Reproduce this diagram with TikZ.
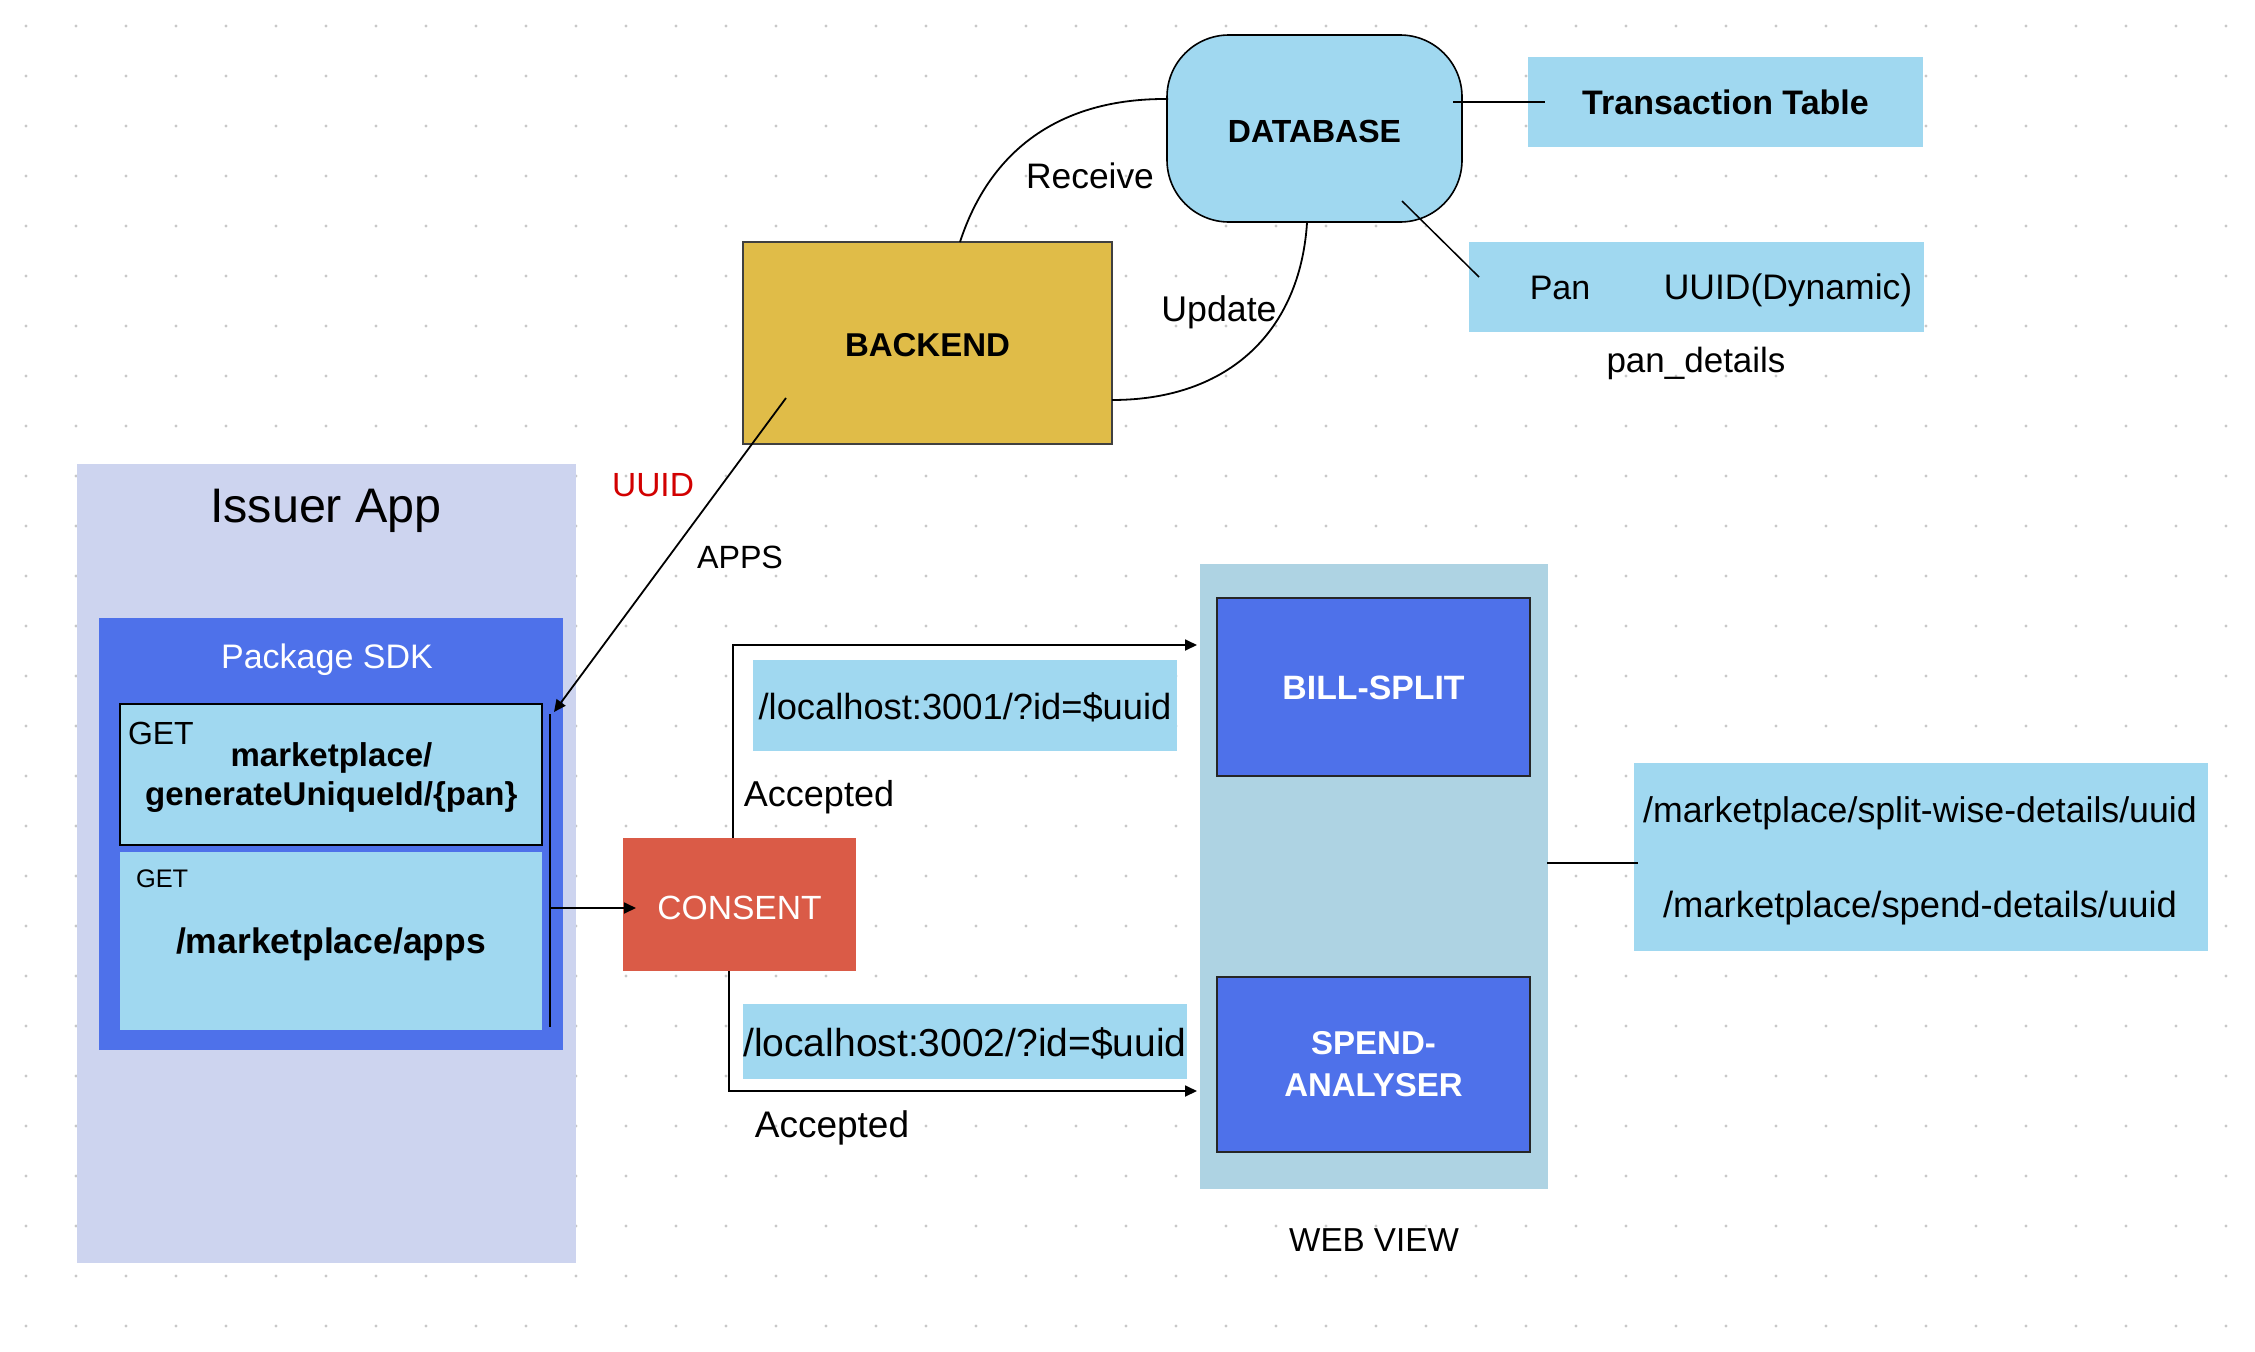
\documentclass[tikz,border=0pt]{standalone}
\usepackage{fontspec}
\setmainfont{Liberation Sans}
\usetikzlibrary{arrows.meta,calc}
\definecolor{dotc}{HTML}{C8C8C8}
\definecolor{issuerc}{HTML}{CDD4EF}
\definecolor{sdkc}{HTML}{4E71EA}
\definecolor{lblue}{HTML}{A0D8F0}
\definecolor{webc}{HTML}{AED3E3}
\definecolor{backc}{HTML}{E0BC48}
\definecolor{consc}{HTML}{DA5B47}
\definecolor{uuidred}{HTML}{D20000}
\newcommand{\fsz}[1]{\fontsize{#1}{#1}\selectfont}
\begin{document}
\begin{tikzpicture}[x=1pt,y=-1pt,
  box/.style={rectangle, inner sep=0pt, outer sep=0pt},
  lbl/.style={inner sep=0pt, outer sep=0pt, anchor=base},
  conn/.style={line width=1.8pt, draw=black},
  arr/.style={conn, -{Triangle[length=12pt,width=11pt]}},
]
\useasboundingbox (0,0) rectangle (2255,1352);
\fill[white] (0,0) rectangle (2255,1352);
\foreach \i in {0,...,44} \foreach \j in {0,...,26} \fill[dotc] (26+50*\i, 26+50*\j) circle (1.7pt);

% Issuer App
\node[box, fill=issuerc, minimum width=499pt, minimum height=799pt] (issuer) at (326.5,863.5) {};
\node[lbl, font=\fsz{48.5}] (issuer-t) at (326,522.5) {Issuer App};
\node[box, fill=sdkc, minimum width=464pt, minimum height=432pt] (sdk) at (331,834) {};
\node[lbl, font=\fsz{34}, text=white] (sdk-t) at (327,668) {Package SDK};
\node[box, fill=lblue, draw=black, line width=2pt, minimum width=422pt, minimum height=141pt] (get1) at (331,774.5) {};
\node[lbl, anchor=base west, font=\fsz{32}] (get1-m) at (128,744) {GET};
\node[lbl, font=\fsz{33}\bfseries] (get1-a) at (331.5,766) {marketplace/};
\node[lbl, font=\fsz{33}\bfseries] (get1-b) at (331.3,805) {generateUniqueId/\{pan\}};
\node[box, fill=lblue, minimum width=422pt, minimum height=178pt] (get2) at (331,941) {};
\node[lbl, anchor=base west, font=\fsz{25.4}] (get2-m) at (136,887) {GET};
\node[lbl, font=\fsz{35.5}\bfseries] (get2-a) at (331,953) {/marketplace/apps};
\coordinate (bar-top) at (550,714);
\coordinate (bar-bot) at (550,1027);
\draw[line width=2.6pt] (bar-top) -- (bar-bot);

% Backend and database
\node[box, fill=backc, draw=black!75, line width=1.5pt, minimum width=369pt, minimum height=202pt, font=\fsz{33}\bfseries, text height=27.4pt, text depth=0pt] (backend) at (927.5,343) {BACKEND};
\node[box, fill=lblue, draw=black, line width=1.6pt, rounded corners=62pt, minimum width=295pt, minimum height=187pt, font=\fsz{32}\bfseries, text height=28.4pt, text depth=0pt] (database) at (1314.5,128.5) {DATABASE};
\node[box, fill=lblue, minimum width=395pt, minimum height=90pt, font=\fsz{34}\bfseries, text height=24pt, text depth=0pt] (trans) at (1725.5,102) {Transaction Table};
\node[box, fill=lblue, minimum width=455pt, minimum height=90pt] (pan) at (1696.5,287) {};
\node[lbl, font=\fsz{34}] (pan-a) at (1560,299.6) {Pan};
\node[lbl, font=\fsz{35.5}] (pan-b) at (1788,299.6) {UUID(Dynamic)};
\node[lbl, font=\fsz{35}] (pan-cap) at (1696,372) {pan\_details};

% Consent and URLs
\node[box, fill=consc, minimum width=233pt, minimum height=133pt, font=\fsz{33.6}, text=white, text height=30.2pt, text depth=0pt] (consent) at (739.5,904.5) {CONSENT};
\node[box, fill=lblue, minimum width=424pt, minimum height=91pt, font=\fsz{36.3}, text height=27.6pt, text depth=0pt] (loc1) at (965,705.5) {/localhost:3001/?id=\$uuid};
\node[box, fill=lblue, minimum width=444pt, minimum height=75pt, font=\fsz{39}, text height=30.4pt, text depth=0pt] (loc2) at (965,1041.5) {/localhost:3002/?id=\$uuid};
\node[lbl, font=\fsz{36}] (acc1) at (819,806.6) {Accepted};
\node[lbl, font=\fsz{37}] (acc2) at (832,1137.3) {Accepted};

% Web view
\node[box, fill=webc, minimum width=348pt, minimum height=625pt] (webview) at (1374,876.5) {};
\node[box, fill=sdkc, draw=black!85, line width=1.5pt, minimum width=313pt, minimum height=178pt, font=\fsz{33.8}\bfseries, text=white, text height=24.6pt, text depth=0pt] (billsplit) at (1373.5,687) {BILL-SPLIT};
\node[box, fill=sdkc, draw=black!85, line width=1.5pt, minimum width=313pt, minimum height=175pt, font={\fontsize{33}{42}\selectfont\bfseries}, text=white, align=center] (spend) at (1373.5,1064.5) {SPEND-\\ANALYSER};
\node[lbl, font=\fsz{33.2}] (web-t) at (1374,1251.5) {WEB VIEW};
\node[box, fill=lblue, minimum width=574pt, minimum height=188pt] (endpoints) at (1921,857) {};
\node[lbl, font=\fsz{35.7}] (ep-a) at (1920,822.6) {/marketplace/split-wise-details/uuid};
\node[lbl, font=\fsz{36.4}] (ep-b) at (1920,917.4) {/marketplace/spend-details/uuid};

% Labels
\node[lbl, font=\fsz{33.5}, text=uuidred] (uuid-t) at (653,496) {UUID};
\node[lbl, font=\fsz{32.2}] (apps-t) at (740,568) {APPS};
\node[lbl, font=\fsz{35.4}] (rcv-t) at (1090,188.3) {Receive};
\node[lbl, font=\fsz{35.7}] (upd-t) at (1219,321) {Update};

% Connectors
\coordinate (bk-from) at (786,398);
\coordinate (bar-tip) at (554,712);
\draw[arr] (bk-from) -- (bar-tip);
\coordinate (bar-mid) at (550,908);
\coordinate (cons-tip) at (636,908);
\draw[arr] (bar-mid) -- (cons-tip);
\coordinate (bs-tip) at (1197,645);
\draw[arr] ($(consent.north)+(-6.5,0)$) |- (bs-tip);
\coordinate (sp-tip) at (1197,1091);
\draw[arr] ($(consent.south)+(-10.5,0)$) |- (sp-tip);
\coordinate (rcv-a) at (960,242);
\coordinate (rcv-b) at (1168,99);
\draw[conn] (rcv-a) .. controls (990,150) and (1060,98) .. (rcv-b);
\coordinate (upd-a) at (1307,223);
\coordinate (upd-b) at (1112,400);
\draw[conn] (upd-a) .. controls (1300,330) and (1230,400) .. (upd-b);
\coordinate (db-t) at (1453,102);
\coordinate (tt-l) at (1545,102);
\draw[conn] (db-t) -- (tt-l);
\coordinate (db-p) at (1402,201);
\coordinate (pd-l) at (1479,277);
\draw[line width=1.5pt] (db-p) -- (pd-l);
\coordinate (wv-r) at (1547,863);
\coordinate (ep-l) at (1638,863);
\draw[conn] (wv-r) -- (ep-l);
\end{tikzpicture}
\end{document}
